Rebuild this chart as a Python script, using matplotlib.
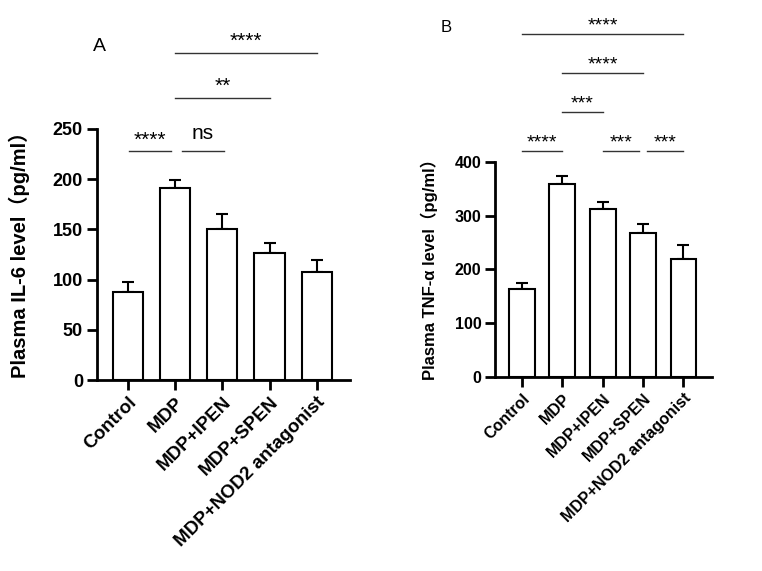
import matplotlib
matplotlib.use('Agg')
import matplotlib.pyplot as plt
import numpy as np

plt.rcParams['font.family'] = ['Liberation Sans', 'Noto Sans CJK SC', 'DejaVu Sans']

groups = ['Control', 'MDP', 'MDP+IPEN', 'MDP+SPEN', 'MDP+NOD2 antagonist']

il6_mean = [88, 191, 150, 126, 108]
il6_err = [10, 8, 15, 10, 12]
il6_sig = [(0.03, 0.91, 228, '****'), (1.14, 2.03, 228, 'ns'),
           (1.0, 3.0, 281, '**'), (1.0, 4.0, 326, '****')]

tnf_mean = [164, 359, 313, 268, 220]
tnf_err = [11, 15, 13, 17, 25]
tnf_sig = [(0.0, 1.0, 420, '****'), (2.0, 2.9, 420, '***'), (3.1, 4.0, 420, '***'),
           (1.0, 2.0, 493, '***'), (1.0, 3.0, 566, '****'), (0.0, 4.0, 638, '****')]


def draw_panel(ax, means, errs, sigs, ymax, ystep, ylabel, fs_tick, fs_lab, fs_x, fs_star, star_off):
    x = np.arange(len(groups))
    ax.bar(x, means, width=0.64, color='white', edgecolor='black', linewidth=1.5, zorder=2)
    ax.errorbar(x, means, yerr=[[0] * len(errs), errs], fmt='none', ecolor='black',
                elinewidth=1.5, capsize=4.5, capthick=1.5, zorder=1)
    ax.set_xlim(-0.66, 4.7)
    ax.set_ylim(0, ymax)
    ax.set_yticks(np.arange(0, ymax + 1, ystep))
    ax.set_xticks(x)
    ax.set_xticklabels(groups, rotation=45, ha='right', rotation_mode='anchor',
                       fontsize=fs_x, fontweight='bold')
    for lbl in ax.get_yticklabels():
        lbl.set_fontsize(fs_tick)
        lbl.set_fontweight('bold')
    for s in ['top', 'right']:
        ax.spines[s].set_visible(False)
    for s in ['left', 'bottom']:
        ax.spines[s].set_linewidth(2)
    ax.tick_params(axis='both', width=2, length=7, pad=3)
    ax.set_ylabel(ylabel, fontsize=fs_lab, fontweight='bold')
    ax.yaxis.set_label_coords(-0.265, 0.52)
    for x1, x2, y, txt in sigs:
        ax.plot([x1, x2], [y, y], color='#333333', linewidth=1, clip_on=False)
        if txt == 'ns':
            ax.annotate(txt, ((x1 + x2) / 2, y), xytext=(0, 9), textcoords='offset points',
                        ha='center', va='baseline', fontsize=15, annotation_clip=False)
        else:
            ax.annotate(txt, ((x1 + x2) / 2, y), xytext=(0, star_off), textcoords='offset points',
                        ha='center', va='baseline', fontsize=fs_star, annotation_clip=False)


fig = plt.figure(figsize=(7.62, 5.71), dpi=100)
ax1 = fig.add_axes([0.127, 0.3345, 0.332, 0.4396])
ax2 = fig.add_axes([0.650, 0.340, 0.284, 0.3765])

draw_panel(ax1, il6_mean, il6_err, il6_sig, 250, 50, 'Plasma IL-6 level（pg/ml）', 13, 14.5, 13.5, 15, 4)
draw_panel(ax2, tnf_mean, tnf_err, tnf_sig, 400, 100, 'Plasma TNF-α level（pg/ml）', 11.5, 12, 11.5, 14, 2.5)

fig.text(0.131, 0.918, 'A', fontsize=14, ha='center', va='center')
fig.text(0.585, 0.951, 'B', fontsize=12, ha='center', va='center')

fig.savefig('out.png', dpi=100, facecolor='white')
